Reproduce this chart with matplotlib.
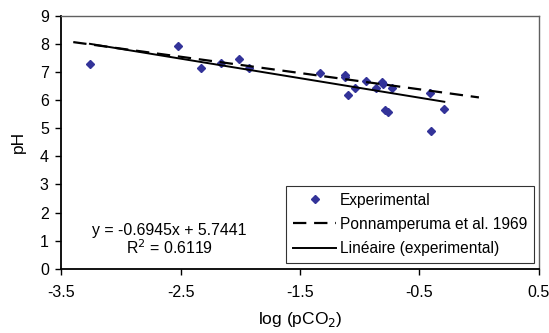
import matplotlib
matplotlib.use("Agg")
import matplotlib.pyplot as plt

plt.rcParams['font.family'] = ['Liberation Sans', 'DejaVu Sans']

# experimental points: log(pCO2) vs pH
log_pco2 = [-3.26, -2.52, -2.33, -2.16, -2.01, -1.93, -1.33, -1.12, -1.12, -1.10,
            -1.035, -0.944, -0.86, -0.81, -0.80, -0.73, -0.787, -0.76, -0.41, -0.40, -0.29]
ph = [7.28, 7.92, 7.13, 7.33, 7.47, 7.13, 6.98, 6.90, 6.82, 6.18,
      6.42, 6.70, 6.43, 6.66, 6.57, 6.42, 5.66, 5.58, 6.25, 4.91, 5.69]

# Ponnamperuma et al. 1969 line
ponn_x = [-3.4, 0.0]
ponn_y = [8.07, 6.1]

# linear trend from the reported equation
slope = -0.6945
intercept = 5.7441
r2 = 0.6119
fit_x = [min(log_pco2), max(log_pco2)]
fit_y = [slope * v + intercept for v in fit_x]

xticks = [-3.5, -2.5, -1.5, -0.5, 0.5]
yticks = list(range(0, 10))

fig = plt.figure(figsize=(5.49, 3.33), dpi=100)
ax = fig.add_axes([0.1117, 0.193, 0.8693, 0.759])

ax.plot(log_pco2, ph, linestyle='none', marker='D', markersize=4.5,
        color='#333399', label='Experimental')
ax.plot(ponn_x, ponn_y, color='black', linestyle=(0, (6, 3.5)), linewidth=1.6,
        label='Ponnamperuma et al. 1969')
ax.plot(fit_x, fit_y, color='black', linewidth=1.4, label='Linéaire (experimental)')

ax.set_xlim(-3.5, 0.5)
ax.set_ylim(0, 9)
ax.set_xticks(xticks)
ax.set_xticklabels([f"{t:g}" for t in xticks])
ax.set_yticks(yticks)
ax.tick_params(direction='out', length=4, width=1, labelsize=11.5)
ax.tick_params(axis='x', pad=8)
ax.tick_params(axis='y', pad=5)

for side in ['left', 'bottom']:
    ax.spines[side].set_color('black')
    ax.spines[side].set_linewidth(1.3)
for side in ['top', 'right']:
    ax.spines[side].set_color('#606060')
    ax.spines[side].set_linewidth(1.0)

ax.set_xlabel('log (pCO$_2$)', fontsize=12.5, labelpad=7)
ax.set_ylabel('pH', fontsize=12.5, labelpad=10)

ax.text(-2.593, 1.02, f"y = {slope}x + {intercept}\nR$^2$ = {r2}", ha='center', va='center',
        multialignment='center', fontsize=11.4, linespacing=1.05)

leg = ax.legend(loc='lower right', bbox_to_anchor=(0.99, 0.022), fontsize=11.2,
                frameon=True, fancybox=False, edgecolor='black', handlelength=2.8,
                handletextpad=0.2, borderpad=0.45, labelspacing=0.6, borderaxespad=0,
                markerscale=0.8)
leg.get_frame().set_linewidth(0.8)

fig.savefig('out.png', dpi=100)
